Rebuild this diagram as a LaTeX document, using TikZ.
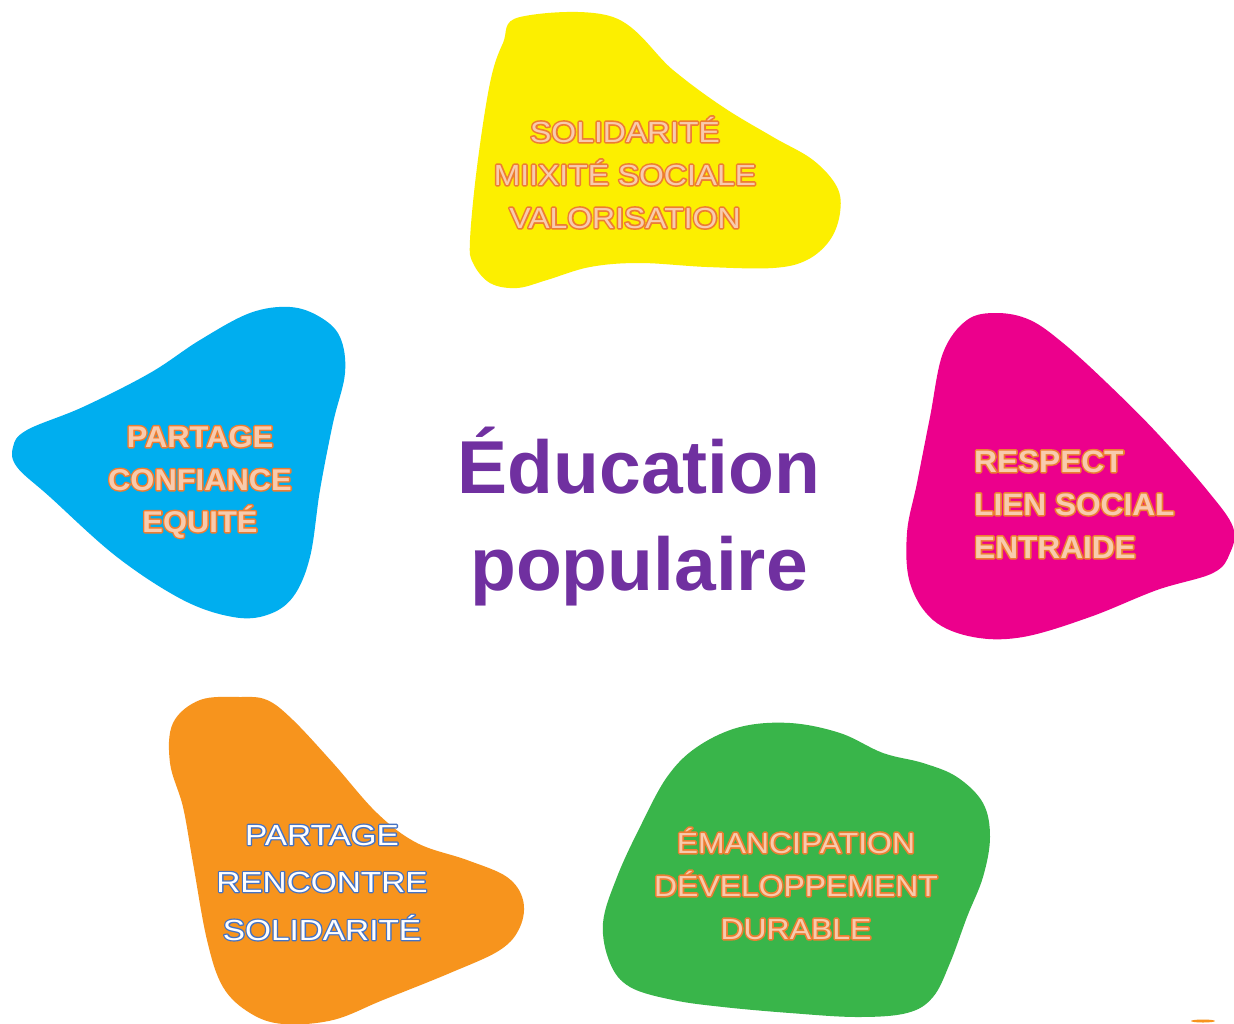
\documentclass[tikz,border=0pt]{standalone}
\usepackage{fontspec}
\setmainfont{Liberation Sans}
\newfontfamily\yelfont[FakeStretch=1.1]{Liberation Sans}
\newfontfamily\yelfontO[FakeStretch=1.1,FakeBold=11]{Liberation Sans}
\newfontfamily\pinkfont[FakeStretch=1.02]{Liberation Sans Bold}
\newfontfamily\pinkfontO[FakeStretch=1.02,FakeBold=10]{Liberation Sans Bold}
\newfontfamily\bluefont[FakeStretch=1.03]{Liberation Sans Bold}
\newfontfamily\bluefontO[FakeStretch=1.03,FakeBold=10]{Liberation Sans Bold}
\newfontfamily\orfont[FakeStretch=1.15]{Liberation Sans}
\newfontfamily\orfontO[FakeStretch=1.15,FakeBold=9]{Liberation Sans}
\newfontfamily\grfont[FakeStretch=1.1]{Liberation Sans}
\newfontfamily\grfontO[FakeStretch=1.1,FakeBold=11]{Liberation Sans}
\newfontfamily\titlefont{Liberation Sans Bold}
\definecolor{yelB}{HTML}{FCEF00}
\definecolor{bluB}{HTML}{00AEEF}
\definecolor{pinB}{HTML}{EC008C}
\definecolor{oraB}{HTML}{F7941D}
\definecolor{greB}{HTML}{39B54A}
\definecolor{purp}{HTML}{7030A0}
% outlined text: a stroked copy beneath (round joins), a filled copy on top
\newcommand{\olpeach}[3]{\rlap{#1\special{pdf:literal direct 1 j 1 J}\special{pdf:bc [0.929 0.490 0.192] [0.929 0.490 0.192]}#3\special{pdf:ec}}{#2\special{pdf:bc [0.973 0.796 0.678] [0.973 0.796 0.678]}#3\special{pdf:ec}}}
\newcommand{\olwhite}[3]{\rlap{#1\special{pdf:literal direct 1 j 1 J}\special{pdf:bc [0.267 0.447 0.769] [0.267 0.447 0.769]}#3\special{pdf:ec}}{#2\special{pdf:bc [1 1 1] [1 1 1]}#3\special{pdf:ec}}}
\newcommand{\ytext}[1]{\olpeach{\yelfontO}{\yelfont}{#1}}
\newcommand{\ptext}[1]{\olpeach{\pinkfontO}{\pinkfont}{#1}}
\newcommand{\btext}[1]{\olpeach{\bluefontO}{\bluefont}{#1}}
\newcommand{\otext}[1]{\olwhite{\orfontO}{\orfont}{#1}}
\newcommand{\gtext}[1]{\olpeach{\grfontO}{\grfont}{#1}}
\tikzset{
  blob/.style={smooth cycle, tension=0.6},
  ytxt/.style={anchor=base, inner sep=0pt, font=\fontsize{29}{30}\selectfont},
  ptxt/.style={anchor=base west, inner sep=0pt, font=\fontsize{31}{30}\selectfont},
  btxt/.style={anchor=base, inner sep=0pt, font=\fontsize{30}{30}\selectfont},
  otxt/.style={anchor=base, inner sep=0pt, font=\fontsize{29}{30}\selectfont},
  gtxt/.style={anchor=base, inner sep=0pt, font=\fontsize{29}{30}\selectfont},
  ttxt/.style={anchor=base, inner sep=0pt, text=purp, font=\titlefont\fontsize{75}{80}\selectfont},
}
\begin{document}
\begin{tikzpicture}[x=1pt,y=-1pt]
\useasboundingbox[fill=white] (0,0) rectangle (1234,1023);
% yellow blob
\fill[yelB] plot[blob] coordinates {(520,17) (613,17) (673,70) (723,107) (773,137) (813,160) (837,187) (840,213) (830,240) (807,260) (773,268) (707,267) (640,263) (590,267) (547,280) (517,288) (490,283) (473,263) (470,240) (477,167) (490,83) (503,43)};
% blue blob
\fill[bluB] plot[blob] coordinates {(290,307) (320,317) (340,337) (345,373) (333,423) (320,490) (310,557) (293,597) (267,615) (233,617) (183,600) (117,557) (50,497) (17,467) (13,447) (27,430) (83,407) (150,373) (200,340) (250,313)};
% pink blob
\fill[pinB] plot[blob] coordinates {(997,313) (1030,320) (1063,343) (1107,383) (1157,433) (1207,490) (1233,527) (1230,553) (1213,573) (1157,590) (1090,617) (1023,637) (973,637) (933,620) (910,583) (907,533) (917,483) (930,417) (943,353) (967,320)};
% orange blob
\fill[oraB] plot[blob] coordinates {(240,697) (267,700) (293,720) (333,763) (377,813) (417,843) (467,860) (507,877) (523,900) (520,927) (500,950) (450,973) (383,1000) (333,1020) (283,1024) (250,1013) (223,987) (207,940) (193,863) (183,807) (170,763) (173,723) (200,700)};
% green blob
\fill[greB] plot[blob] coordinates {(790,723) (840,733) (883,753) (923,763) (957,777) (983,803) (990,837) (983,877) (967,917) (950,963) (933,997) (907,1013) (857,1017) (790,1013) (723,1007) (673,1000) (630,987) (610,963) (603,923) (617,877) (640,827) (667,777) (697,747) (740,727)};
% small orange mark
\fill[oraB] (1203,1021) ellipse [x radius=12, y radius=1.5];
% texts
\node[ytxt] (y1) at (625,142) {\ytext{SOLIDARITÉ}};
\node[ytxt] (y2) at (625,185) {\ytext{MIIXITÉ SOCIALE}};
\node[ytxt] (y3) at (625,228) {\ytext{VALORISATION}};
\node[ptxt] (p1) at (974,472) {\ptext{RESPECT}};
\node[ptxt] (p2) at (974,515) {\ptext{LIEN SOCIAL}};
\node[ptxt] (p3) at (974,558) {\ptext{ENTRAIDE}};
\node[btxt] (b1) at (200,447) {\btext{PARTAGE}};
\node[btxt] (b2) at (200,490) {\btext{CONFIANCE}};
\node[btxt] (b3) at (200,532) {\btext{EQUITÉ}};
\node[otxt] (o1) at (322,845) {\otext{PARTAGE}};
\node[otxt] (o2) at (322,892) {\otext{RENCONTRE}};
\node[otxt] (o3) at (322,940) {\otext{SOLIDARITÉ}};
\node[gtxt] (g1) at (796,853) {\gtext{ÉMANCIPATION}};
\node[gtxt] (g2) at (796,896) {\gtext{DÉVELOPPEMENT}};
\node[gtxt] (g3) at (796,939) {\gtext{DURABLE}};
\node[ttxt] (t1) at (639,493) {Éducation};
\node[ttxt] (t2) at (639,590) {populaire};
\end{tikzpicture}
\end{document}
